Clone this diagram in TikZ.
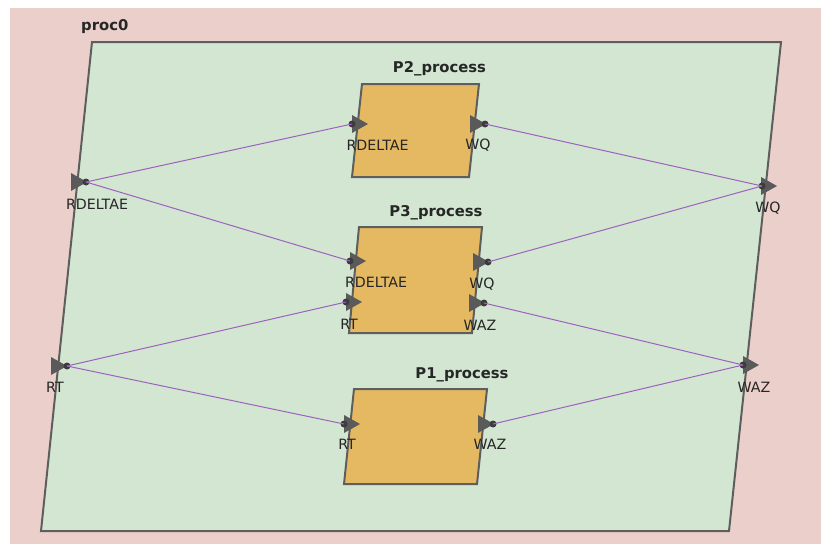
\documentclass[tikz,border=0pt]{standalone}
\usepackage{fontspec}
\setmainfont{DejaVu Sans}
\definecolor{bgpink}{HTML}{EBCFCB}
\definecolor{bggreen}{HTML}{D2E6D2}
\definecolor{boxorange}{HTML}{E5B962}
\definecolor{strokeg}{HTML}{5E5E5E}
\definecolor{portg}{HTML}{5A5A5A}
\definecolor{dotg}{HTML}{3C3C3C}
\definecolor{wirec}{HTML}{9E62BE}
\tikzset{
  x=1pt,y=-1pt,
  procbox/.style={draw=strokeg,line width=2pt,fill=boxorange,line join=miter},
  outerbox/.style={draw=strokeg,line width=2pt,fill=bggreen},
  porttri/.style={fill=portg},
  portdot/.style={circle,fill=dotg,inner sep=0pt,minimum size=7pt},
  plabel/.style={font=\fontsize{14.2}{16}\selectfont,text=black!85,inner sep=0pt},
  ptitle/.style={font=\fontsize{14.8}{17}\selectfont\bfseries,text=black!85,inner sep=0pt},
  wire/.style={draw=wirec,line width=1pt},
}
\newcommand{\tri}[2]{\fill[porttri] (#1,#2-9) -- (#1+16,#2) -- (#1,#2+9) -- cycle;}
\begin{document}
\begin{tikzpicture}
\useasboundingbox (0,0) rectangle (821,546);
\fill[white] (0,0) rectangle (821,546);
\fill[bgpink] (10,8) rectangle (821,544);
\node[ptitle,anchor=west] (tproc) at (81,26.5) {proc0};
\draw[outerbox] (92,42) -- (781,42) -- (729,531) -- (41,531) -- cycle;
% boxes
\draw[procbox] (362,84) -- (479,84) -- (469,177) -- (352,177) -- cycle;
\node[ptitle] (t2) at (439.5,68.5) {P2\_process};
\draw[procbox] (359,227) -- (482,227) -- (472,333) -- (349,333) -- cycle;
\node[ptitle] (t3) at (436,212.5) {P3\_process};
\draw[procbox] (354,389) -- (487,389) -- (477,484) -- (344,484) -- cycle;
\node[ptitle] (t1) at (462,374.5) {P1\_process};
% port triangles
\tri{71}{182}
\tri{51}{366}
\tri{761}{186}
\tri{743}{365}
\tri{352}{124}
\tri{470}{124}
\tri{350}{261}
\tri{346}{302}
\tri{473}{262}
\tri{469}{303}
\tri{344}{424}
\tri{478}{424}
% port dots
\node[portdot] (oRD) at (86,182) {};
\node[portdot] (oRT) at (67,366) {};
\node[portdot] (oWQ) at (762,186) {};
\node[portdot] (oWAZ) at (743,365) {};
\node[portdot] (p2RD) at (352,124) {};
\node[portdot] (p2WQ) at (485,124) {};
\node[portdot] (p3RD) at (350,261) {};
\node[portdot] (p3RT) at (346,302) {};
\node[portdot] (p3WQ) at (488,262) {};
\node[portdot] (p3WAZ) at (484,303) {};
\node[portdot] (p1RT) at (344,424) {};
\node[portdot] (p1WAZ) at (493,424) {};
% wires
\draw[wire] (oRD.center) -- (p2RD.center);
\draw[wire] (oRD.center) -- (p3RD.center);
\draw[wire] (oRT.center) -- (p3RT.center);
\draw[wire] (oRT.center) -- (p1RT.center);
\draw[wire] (p2WQ.center) -- (oWQ.center);
\draw[wire] (p3WQ.center) -- (oWQ.center);
\draw[wire] (p3WAZ.center) -- (oWAZ.center);
\draw[wire] (p1WAZ.center) -- (oWAZ.center);
% labels
\node[plabel] (lRD) at (97,204) {RDELTAE};
\node[plabel] (lRT) at (55,387) {RT};
\node[plabel] (lWQ) at (768,208) {WQ};
\node[plabel] (lWAZ) at (754,387) {WAZ};
\node[plabel] (l2RD) at (377.5,145) {RDELTAE};
\node[plabel] (l2WQ) at (478,145) {WQ};
\node[plabel] (l3RD) at (376,282) {RDELTAE};
\node[plabel] (l3RT) at (349,324) {RT};
\node[plabel] (l3WQ) at (482,284) {WQ};
\node[plabel] (l3WAZ) at (480,325) {WAZ};
\node[plabel] (l1RT) at (347,444) {RT};
\node[plabel] (l1WAZ) at (490,444) {WAZ};
\end{tikzpicture}
\end{document}
